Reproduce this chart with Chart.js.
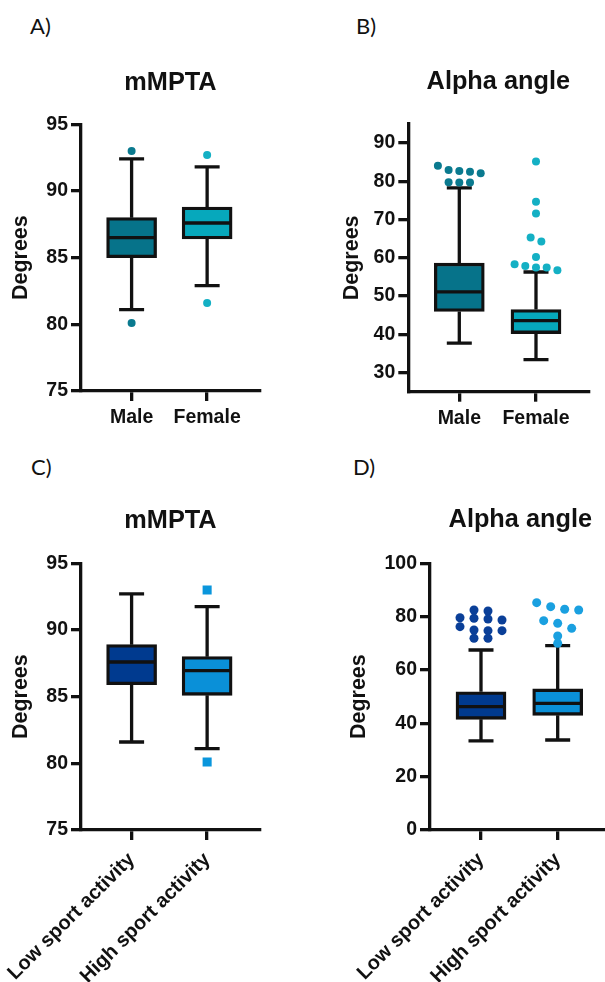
<!DOCTYPE html>
<html>
<head>
<meta charset="utf-8">
<script src="https://cdn.jsdelivr.net/npm/chart.js@4.4.1/dist/chart.umd.min.js"></script>
<style>
  body { margin: 0; width: 605px; height: 982px; overflow: hidden; background: #fff; position: relative; }
  canvas { position: absolute; }
  .tag { position: absolute; font-family: Lato, "Open Sans", sans-serif; font-size: 22px; line-height: 22px; color: #111; }
</style>
</head>
<body>
<div class="tag" style="left:30px;top:15px">A)</div>
<div class="tag" style="left:356px;top:15px">B)</div>
<div class="tag" style="left:31px;top:456px">C)</div>
<div class="tag" style="left:353px;top:456px">D)</div>

<canvas id="chartA" width="300" height="400" style="left:0;top:50px"></canvas>
<canvas id="chartB" width="305" height="400" style="left:300px;top:50px"></canvas>
<canvas id="chartC" width="300" height="492" style="left:0;top:490px"></canvas>
<canvas id="chartD" width="320" height="492" style="left:300px;top:490px"></canvas>

<script>
// categories
const sexGroups = ['Male', 'Female']
const sportGroups = ['Low sport activity', 'High sport activity']

// y axis tick labels
const mmptaTicks = [75, 80, 85, 90, 95]
const alphaSexTicks = [30, 40, 50, 60, 70, 80, 90]
const alphaSportTicks = [0, 20, 40, 60, 80, 100]

// box summaries: [lower whisker, Q1, median, Q3, upper whisker]
const mmptaMale = [81.1, 85.0, 86.5, 88.0, 92.4]
const mmptaFemale = [82.9, 86.4, 87.6, 88.8, 91.8]
const alphaMale = [37.7, 46.0, 51.1, 58.6, 78.3]
const alphaFemale = [33.4, 40.2, 43.6, 46.5, 56.3]
const mmptaLowSport = [81.6, 85.9, 87.6, 88.9, 92.7]
const mmptaHighSport = [81.1, 85.1, 86.95, 88.0, 91.75]
const alphaLowSport = [33.4, 41.5, 46.25, 51.8, 67.5]
const alphaHighSport = [33.75, 43.0, 47.5, 52.9, 69.1]

// outliers
const mmptaMaleOut = [93.0, 80.1]
const mmptaFemaleOut = [92.7, 81.6]
const alphaMaleOut = [84.1, 83.0, 82.7, 82.5, 82.1, 79.8, 79.7, 79.7]
const alphaFemaleOut = [85.2, 74.7, 71.6, 65.3, 64.3, 60.25, 58.3, 57.9, 57.45, 57.45, 56.75]
const mmptaLowSportOut = []
const mmptaHighSportOut = [93.0, 80.1]
const alphaLowSportOut = [82.5, 82.1, 79.6, 79.4, 79.1, 78.75, 76.25, 75.0, 74.75, 74.75, 71.9, 71.9]
const alphaHighSportOut = [85.25, 83.75, 82.75, 82.5, 78.5, 77.5, 75.6, 72.75, 70.0]

Chart.defaults.font.family = '"Liberation Sans", Arial, sans-serif'
Chart.defaults.font.weight = 'bold'
Chart.defaults.color = '#111'

const LINE = 3.3
const TITLE_SIZE = 25.3

// whiskers + caps under the boxes, medians on top
const whiskerPlugin = {
    id: 'whiskers',
    beforeDatasetsDraw(chart) {
        const ctx = chart.ctx
        const x = chart.scales.x
        const y = chart.scales.y
        ctx.save()
        ctx.strokeStyle = '#111'
        ctx.lineWidth = LINE
        chart.data.datasets[0].stats.forEach(function(s, i) {
            const cx = x.getPixelForValue(i)
            ctx.beginPath()
            ctx.moveTo(cx, y.getPixelForValue(s[0]))
            ctx.lineTo(cx, y.getPixelForValue(s[1]))
            ctx.moveTo(cx, y.getPixelForValue(s[3]))
            ctx.lineTo(cx, y.getPixelForValue(s[4]))
            for (const v of [s[0], s[4]]) {
                const py = y.getPixelForValue(v)
                ctx.moveTo(cx - 12.5, py)
                ctx.lineTo(cx + 12.5, py)
            }
            ctx.stroke()
        })
        ctx.restore()
    },
    afterDatasetsDraw(chart) {
        const ctx = chart.ctx
        const x = chart.scales.x
        const y = chart.scales.y
        ctx.save()
        ctx.strokeStyle = '#111'
        ctx.lineWidth = LINE
        chart.data.datasets[0].stats.forEach(function(s, i) {
            const cx = x.getPixelForValue(i)
            const py = y.getPixelForValue(s[2])
            ctx.beginPath()
            ctx.moveTo(cx - 24, py)
            ctx.lineTo(cx + 24, py)
            ctx.stroke()
        })
        ctx.restore()
    }
}

// spread outliers that sit close together into centred rows
function swarm(values, center, pxPerY, pxPerX, stepPx) {
    const sorted = [...values].sort((a, b) => b - a)
    const rows = []
    sorted.forEach(function(v) {
        const row = rows[rows.length - 1]
        if (row && (row[row.length - 1] - v) * pxPerY < 5.5) row.push(v)
        else rows.push([v])
    })
    const pts = []
    rows.forEach(function(row) {
        row.forEach(function(v, i) {
            pts.push({x: center + (i - (row.length - 1) / 2) * stepPx / pxPerX, y: v})
        })
    })
    return pts
}

function drawBoxPanel(p) {
    const canvas = document.getElementById(p.id)
    const cLeft = parseFloat(canvas.style.left)
    const cTop = parseFloat(canvas.style.top)
    const a = p.area
    const pxPerY = (a.b - a.t) / (p.yRange[1] - p.yRange[0])
    const pxPerX = (a.r - a.l) / (p.xRange[1] - p.xRange[0])
    const yw = a.l - cLeft
    const xh = cTop + canvas.height - a.b
    const padTop = p.titleY - cTop - TITLE_SIZE * 0.6
    const titleBottom = a.t - cTop - padTop - TITLE_SIZE * 1.2

    const grid = {drawOnChartArea: false, drawTicks: true, tickLength: 10, tickWidth: LINE, tickColor: '#111', color: '#111', lineWidth: LINE, offset: false}
    const border = {display: true, color: '#111', width: LINE}

    const datasets = [{
        type: 'bar',
        stats: p.stats,
        data: p.stats.map((s, i) => ({x: i, y: [s[1], s[3]]})),
        backgroundColor: p.fills,
        borderColor: '#111',
        borderWidth: LINE,
        borderSkipped: false,
        barThickness: 50
    }]
    p.outliers.forEach(function(vals, i) {
        datasets.push({
            type: 'scatter',
            data: swarm(vals, i, pxPerY, pxPerX, p.stepPx),
            backgroundColor: p.dots[i],
            borderWidth: 0,
            pointStyle: p.pointStyle,
            pointRadius: p.pointRadius
        })
    })

    new Chart(canvas, {
        type: 'bar',
        data: {datasets: datasets},
        plugins: [whiskerPlugin],
        options: {
            responsive: false,
            animation: false,
            events: [],
            layout: {padding: {left: 0, right: cLeft + canvas.width - a.r, top: padTop, bottom: 0}},
            plugins: {
                legend: {display: false},
                tooltip: {enabled: false},
                title: {
                    display: true,
                    text: p.title,
                    fullSize: false,
                    color: '#111',
                    font: {size: TITLE_SIZE, weight: 'bold'},
                    padding: {top: 0, bottom: titleBottom}
                }
            },
            scales: {
                x: {
                    type: 'linear',
                    offset: false,
                    min: p.xRange[0],
                    max: p.xRange[1],
                    afterBuildTicks: s => { s.ticks = p.cats.map((c, i) => ({value: i})) },
                    afterFit: s => { s.height = xh; s.paddingLeft = 0; s.paddingRight = 0 },
                    ticks: {
                        callback: v => p.cats[v],
                        autoSkip: false,
                        maxRotation: p.rotate,
                        minRotation: p.rotate,
                        padding: p.rotate ? 8 : 5,
                        color: '#111',
                        font: {size: p.rotate ? 20 : 19.5, weight: 'bold'}
                    },
                    grid: grid,
                    border: border
                },
                y: {
                    min: p.yRange[0],
                    max: p.yRange[1],
                    afterBuildTicks: s => { s.ticks = p.yTicks.map(v => ({value: v})) },
                    afterFit: s => { s.width = yw },
                    ticks: {padding: 3, color: '#111', font: {size: 19.5, weight: 'bold'}},
                    grid: grid,
                    border: border,
                    title: {
                        display: true,
                        text: 'Degrees',
                        color: '#111',
                        font: {size: 21.5, weight: 'bold'},
                        padding: {top: p.yTitleX - cLeft - 12.9, bottom: 0}
                    }
                }
            }
        }
    })
}

drawBoxPanel({
    id: 'chartA', title: 'mMPTA', titleY: 83, yTitleX: 21.5,
    area: {l: 81, r: 260, t: 124.3, b: 391},
    xRange: [-0.67, 1.70], yRange: [75, 95], yTicks: mmptaTicks, cats: sexGroups,
    stats: [mmptaMale, mmptaFemale], outliers: [mmptaMaleOut, mmptaFemaleOut],
    fills: ['#06738a', '#06a8bc'], dots: ['#0a7a8f', '#14b0c4'],
    pointStyle: 'circle', pointRadius: 4, stepPx: 11, rotate: 0
})

drawBoxPanel({
    id: 'chartB', title: 'Alpha angle', titleY: 82, yTitleX: 352,
    area: {l: 408.3, r: 588.3, t: 124, b: 391.7},
    xRange: [-0.665, 1.682], yRange: [25, 95], yTicks: alphaSexTicks, cats: sexGroups,
    stats: [alphaMale, alphaFemale], outliers: [alphaMaleOut, alphaFemaleOut],
    fills: ['#06738a', '#06a8bc'], dots: ['#0a7a8f', '#14b0c4'],
    pointStyle: 'circle', pointRadius: 4, stepPx: 10.7, rotate: 0
})

drawBoxPanel({
    id: 'chartC', title: 'mMPTA', titleY: 521, yTitleX: 21.5,
    area: {l: 81, r: 260, t: 563.3, b: 830},
    xRange: [-0.67, 1.70], yRange: [75, 95], yTicks: mmptaTicks, cats: sportGroups,
    stats: [mmptaLowSport, mmptaHighSport], outliers: [mmptaLowSportOut, mmptaHighSportOut],
    fills: ['#003a8f', '#0a90d8'], dots: ['#0a3f98', '#0a96dc'],
    pointStyle: 'rect', pointRadius: 6.4, stepPx: 11, rotate: 45
})

drawBoxPanel({
    id: 'chartD', title: 'Alpha angle', titleY: 520, yTitleX: 359,
    area: {l: 430, r: 610.6, t: 563.3, b: 830},
    xRange: [-0.665, 1.69], yRange: [0, 100], yTicks: alphaSportTicks, cats: sportGroups,
    stats: [alphaLowSport, alphaHighSport], outliers: [alphaLowSportOut, alphaHighSportOut],
    fills: ['#003a8f', '#0a90d8'], dots: ['#0a3f98', '#1aa0e0'],
    pointStyle: 'circle', pointRadius: 4.5, stepPx: 14, rotate: 45
})
</script>
</body>
</html>
